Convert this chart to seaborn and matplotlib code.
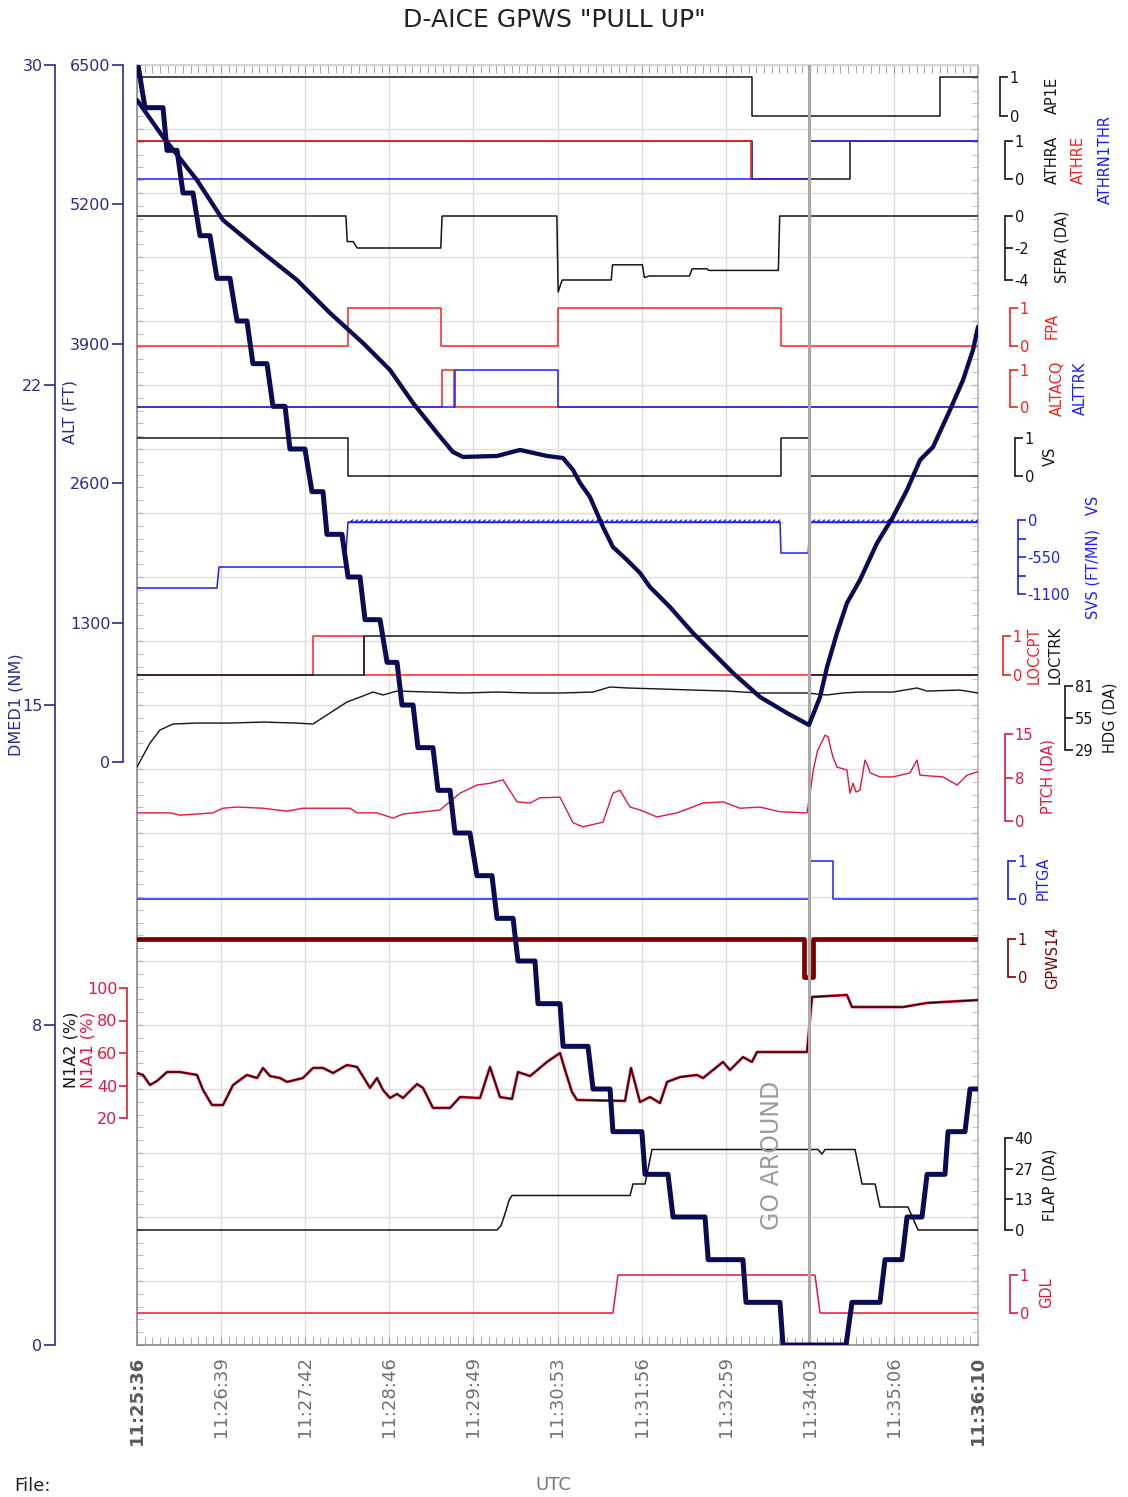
import numpy as np
import matplotlib
matplotlib.use("Agg")
import matplotlib.pyplot as plt
import matplotlib.patheffects as pe
import seaborn as sns

# ---- data (time in seconds after 11:25:36 UTC) ----
time_labels = ["11:25:36", "11:26:39", "11:27:42", "11:28:46", "11:29:49", "11:30:53",
               "11:31:56", "11:32:59", "11:34:03", "11:35:06", "11:36:10"]
t_end = 634
t_go_around = 506.5

alt_t = [0, 19.6, 45.2, 64.8, 95.0, 120.6, 145.5, 170.4, 190.7, 208.1,
         226.2, 238.2, 245.8, 271.4, 288.7, 309.1, 321.1, 328.7, 334.0, 341.5,
         351.3, 358.8, 369.4, 379.2, 386.7, 401.8, 419.1, 434.2, 449.3, 469.7,
         490.0, 506.6, 514.9, 520.2, 527.7, 535.2, 545.0, 557.9, 569.9, 580.5,
         590.3, 600.1, 612.9, 622.7, 630.2, 634]
alt_ft = [6174, 5829, 5427, 5054, 4747, 4495, 4187, 3907, 3656, 3348,
          3068, 2891, 2845, 2854, 2910, 2854, 2835, 2723, 2602, 2471,
          2192, 2005, 1884, 1763, 1632, 1445, 1203, 1017, 830, 606,
          457, 345, 606, 886, 1203, 1483, 1697, 2042, 2285, 2537,
          2816, 2938, 3283, 3562, 3842, 4057]

# DME distance, 1 NM steps: level held from dme_on to dme_off
dme_level = list(range(30, -1, -1)) + [1, 2, 3, 4, 5, 6]
dme_on = [0.0, 6.0, 22.6, 34.7, 47.5, 60.3, 75.4, 87.4, 102.5, 115.3, 131.9, 143.2, 159.1,
          171.9, 188.5, 199.8, 211.8, 226.9, 239.7, 256.3, 271.4, 287.2, 302.3, 321.2,
          343.8, 358.8, 383.0, 404.1, 430.6, 459.1, 487.0, 539.0, 563.9, 580.5, 595.6,
          611.4, 628.0]
dme_off = [0.8, 19.6, 30.2, 42.2, 55.0, 70.1, 82.9, 98.0, 111.6, 126.6, 140.2, 154.5, 168.1,
           183.2, 196.0, 208.1, 223.1, 236.0, 251.0, 267.6, 283.5, 300.0, 318.9, 340.0,
           356.6, 380.6, 400.3, 428.2, 456.8, 484.7, 534.5, 560.1, 576.7, 591.8, 609.1,
           624.2, 634.0]

ap1e_t, ap1e = [0, 463.6, 605.4, 634], [1, 0, 1, 1]
athra_t, athra = [0, 463.6, 537.5, 634], [1, 0, 1, 1]
athre_t, athre = [0, 463.2, 507.0, 634], [1, 0, 1, 1]
athrn1thr_t, athrn1thr = [0, 507.4, 634], [0, 1, 1]

sfpa_t = [0, 157.5, 158.5, 163.0, 166.0, 229.0, 230.0, 316.5, 317.5, 320.5, 357.5,
          358.5, 381.0, 382.5, 386.0, 416.5, 418.5, 429.5, 431.0, 483.5, 484.5, 634]
sfpa = [0, 0, -1.6, -1.6, -2.0, -2.0, 0, 0, -4.75, -4.0, -4.0,
        -3.05, -3.05, -3.85, -3.75, -3.75, -3.3, -3.3, -3.4, -3.4, 0, 0]

fpa_t, fpa = [0, 158.8, 229.2, 317.4, 485.4, 634], [0, 1, 0, 1, 0, 0]
altacq_t, altacq = [0, 229.9, 238.7, 634], [0, 1, 0, 0]
alttrk_t, alttrk = [0, 239.5, 317.4, 634], [0, 1, 0, 0]
vs_t, vs = [0, 158.8, 485.4, 506.6, 634], [1, 0, 1, 0, 0]

svs_t = [0, 60.3, 61.8, 156.8, 159.1, 484.7, 485.5, 506.0, 507.4, 634]
svs = [-1011, -1011, -699, -699, -30, -30, -491, -491, -30, -30]

loccpt_t, loccpt = [0, 132.7, 171.1, 634], [0, 1, 0, 0]
loctrk_t, loctrk = [0, 171.1, 506.6, 634], [0, 1, 0, 0]

hdg_t = [0, 9.8, 17.3, 27.1, 45.2, 70.0, 95.0, 120.0, 132.7, 145.5,
         158.3, 170.4, 177.9, 185.5, 196.0, 220.9, 245.8, 271.4, 296.3, 318.9,
         343.8, 356.6, 369.4, 394.3, 419.1, 444.8, 469.7, 494.6, 505.8, 512.0,
         520.2, 532.2, 545.0, 569.9, 588.0, 595.5, 620.4, 634]
hdg = [15.2, 34.7, 45.2, 50.1, 50.9, 50.9, 51.7, 50.9, 50.1, 59.1,
       68.0, 72.9, 76.1, 73.7, 76.9, 76.1, 75.3, 76.1, 75.3, 75.3,
       76.1, 80.2, 79.4, 78.6, 77.7, 76.9, 75.3, 75.3, 75.3, 74.5,
       73.7, 75.3, 76.1, 76.1, 79.4, 76.9, 77.7, 75.3]

ptch_t = [0, 24.9, 32.4, 57.3, 64.8, 75.4, 95.0, 113.1, 125.1, 160.6,
          165.9, 180.9, 193.0, 200.5, 228.4, 243.5, 256.3, 266.1, 275.9, 286.5,
          296.3, 303.8, 318.9, 328.7, 336.2, 351.3, 358.8, 364.1, 371.7, 379.2,
          392.0, 407.1, 426.7, 441.8, 454.6, 469.7, 484.7, 505.1, 507.4, 510.0,
          513.0, 518.7, 521.0, 523.0, 524.7, 527.7, 535.2, 537.5, 539.8, 542.0,
          545.0, 548.8, 551.0, 552.6, 560.1, 569.9, 582.7, 588.0, 590.3, 607.6,
          618.2, 625.7, 634]
ptch = [1.4, 1.4, 1.0, 1.4, 2.2, 2.4, 2.2, 1.7, 2.2, 2.2,
        1.4, 1.4, 0.5, 1.2, 1.9, 4.8, 6.2, 6.5, 7.1, 3.3,
        3.1, 4.0, 4.1, -0.3, -1.0, -0.2, 4.8, 5.3, 2.4, 1.9,
        0.7, 1.4, 3.1, 3.3, 2.2, 2.4, 1.6, 1.4, 4.8, 9.0,
        12.1, 14.8, 14.5, 12.5, 11.0, 9.3, 8.8, 4.8, 6.5, 5.0,
        5.3, 10.5, 9.5, 8.3, 7.6, 7.6, 8.3, 10.5, 7.9, 7.6,
        6.2, 7.9, 8.5]

pitga_t, pitga = [0, 507.4, 524.5, 634], [0, 1, 0, 0]
gpws14_t, gpws14 = [0, 502.5, 509.6, 634], [1, 0, 1, 1]

n1_t = [0, 4.5, 9.8, 15.1, 22.6, 32.4, 45.2, 49.8, 56.5, 64.8,
        72.4, 77.6, 82.9, 90.5, 95.0, 100.3, 107.8, 113.1, 125.1, 132.7,
        140.2, 147.8, 158.3, 165.9, 175.7, 180.9, 185.5, 190.7, 196.0, 200.5,
        211.1, 215.6, 223.1, 236.0, 243.5, 258.6, 266.1, 273.6, 282.7, 287.2,
        296.3, 309.1, 318.9, 322.7, 327.9, 331.7, 367.9, 372.4, 379.2, 386.7,
        394.3, 399.6, 409.4, 422.2, 426.7, 441.8, 447.0, 456.8, 463.6, 467.4,
        505.1, 508.9, 535.2, 539.0, 577.5, 595.6, 634]
n1a1 = [47.7, 46.5, 40.3, 42.8, 48.3, 48.3, 46.5, 37.2, 28.0, 28.0,
        40.3, 43.4, 46.5, 44.6, 50.8, 45.8, 44.6, 42.2, 44.6, 50.8,
        50.8, 47.7, 52.6, 51.4, 38.5, 44.6, 37.2, 32.3, 34.8, 32.3,
        40.9, 38.5, 26.2, 26.2, 32.9, 32.3, 51.4, 32.9, 31.7, 48.3,
        45.8, 54.5, 60.0, 49.5, 36.0, 31.1, 30.5, 50.8, 29.8, 32.9,
        29.2, 42.2, 45.2, 46.5, 44.6, 54.5, 49.5, 57.5, 54.5, 60.6,
        60.6, 94.5, 95.7, 88.3, 88.3, 90.8, 92.6]
n1a2 = list(n1a1)  # both engines read the same on the trace

flap_t = [0, 271.4, 274.5, 277.4, 280.5, 282.7, 371.7, 373.9, 383.0, 388.2,
          513.4, 516.4, 518.7, 541.3, 546.6, 556.4, 560.1, 581.2, 588.8, 634]
flap = [0, 0, 2, 7, 13, 15, 15, 20, 20, 35, 35, 33, 35, 35, 20, 20, 10, 10, 0, 0]

gdl_t, gdl = [0, 358.8, 362.6, 511.1, 514.9, 634], [0, 0, 1, 1, 0, 0]

# ---- layout ----
W, H = 1128, 1497
X0, X1, Y0, Y1 = 137, 978, 65, 1345  # plot box in pixels

NAVY = "#0b0b55"
AXNAVY = "#2a2a92"
BLACK = "#151515"
RED = "#ff1e1e"
CRIMSON = "#e6163e"
BLUE = "#1e1eff"
DARKRED = "#7a0000"
GRAY = "#a9a9a9"

sns.set_style("white")
plt.rcParams["font.family"] = ["DejaVu Sans"]


def fx(x):
    return x / W


def fy(y):
    return 1 - y / H


fig = plt.figure(figsize=(W / 100, H / 100), dpi=100)
rect = [X0 / W, 1 - Y1 / H, (X1 - X0) / W, (Y1 - Y0) / H]
ax = fig.add_axes(rect)
ax.set_xlim(0, t_end)
ax.set_ylim(0, 20)
ax.set_xticks(np.linspace(0, t_end, len(time_labels)))
ax.set_xticklabels(time_labels, rotation=90, fontsize=13, color="#707070")
for lab in (ax.get_xticklabels()[0], ax.get_xticklabels()[-1]):
    lab.set_fontweight("bold")
    lab.set_color("#5a5a5a")
ax.set_xticks(np.linspace(0, t_end, 111), minor=True)
ax.set_yticks(np.arange(0, 21))
ax.set_yticks(np.arange(0, 20.01, 0.2), minor=True)
ax.tick_params(axis="x", which="both", direction="in", top=True, bottom=True,
               length=6, color="#9a9a9a", pad=8)
ax.tick_params(axis="y", which="both", direction="in", left=True, right=True,
               labelleft=False, length=4, color="#b0b0b0")
ax.grid(which="major", color="#dedede", lw=1)
for side, col in (("left", "#8a8a8a"), ("bottom", "#8a8a8a"),
                  ("right", "#b5b5b5"), ("top", "#d0d0d0")):
    ax.spines[side].set_color(col)
    ax.spines[side].set_linewidth(1.2)


def overlay(v_a, y_a, v_b, y_b):
    a = fig.add_axes(rect, sharex=ax)
    a.patch.set_alpha(0)
    for s in a.spines.values():
        s.set_visible(False)
    a.tick_params(axis="x", which="both", bottom=False, top=False, labelbottom=False)
    k = (v_b - v_a) / (y_b - y_a)
    a.set_ylim(v_a + k * (Y1 - y_a), v_a + k * (Y0 - y_a))
    a.set_yticks([])
    return a


def bracket(a, x_px, lo, hi, ticks, labels, color, side="right"):
    sp = a.spines[side]
    sp.set_visible(True)
    sp.set_position(("axes", (x_px - X0) / (X1 - X0)))
    sp.set_bounds(lo, hi)
    sp.set_color(color)
    sp.set_linewidth(1.2)
    a.yaxis.set_ticks_position(side)
    a.set_yticks(ticks, labels)
    a.tick_params(axis="y", direction="out", length=6, width=1.2, color=color,
                  labelcolor=color, labelsize=10.5, pad=1)


def name(x, y, s, color):
    fig.text(fx(x), fy(y), s, rotation=90, ha="center", va="center",
             color=color, fontsize=10.5)


def trace(a, t, v, color, lw=1.1, steps=False):
    sns.lineplot(x=t, y=v, ax=a, color=color, linewidth=lw, estimator=None,
                 sort=False, drawstyle="steps-post" if steps else "default")


binary = [0, 1]

a = overlay(0, 116, 1, 77)
trace(a, ap1e_t, ap1e, BLACK, steps=True)
bracket(a, 1000, 0, 1, binary, ["0", "1"], BLACK)
name(1052, 95, "AP1E", BLACK)

a = overlay(0, 179, 1, 141)
trace(a, athra_t, athra, BLACK, steps=True)
trace(a, athre_t, athre, RED, steps=True)
trace(a, athrn1thr_t, athrn1thr, BLUE, steps=True)
bracket(a, 1005, 0, 1, binary, ["0", "1"], BLACK)
name(1052, 160, "ATHRA", BLACK)
name(1078, 160, "ATHRE", RED)
name(1105, 160, "ATHRN1THR", BLUE)

a = overlay(-4, 280, 0, 216)
trace(a, sfpa_t, sfpa, BLACK)
bracket(a, 1005, -4, 0, [-4, -2, 0], ["-4", "-2", "0"], BLACK)
name(1062, 247, "SFPA (DA)", BLACK)

a = overlay(0, 346, 1, 308)
trace(a, fpa_t, fpa, RED, steps=True)
bracket(a, 1010, 0, 1, binary, ["0", "1"], RED)
name(1052, 326, "FPA", RED)

a = overlay(0, 407, 1, 370)
trace(a, altacq_t, altacq, RED, steps=True)
trace(a, alttrk_t, alttrk, BLUE, steps=True)
bracket(a, 1010, 0, 1, binary, ["0", "1"], RED)
name(1057, 388, "ALTACQ", RED)
name(1080, 388, "ALTTRK", BLUE)

a = overlay(0, 476, 1, 438)
trace(a, vs_t, vs, BLACK, steps=True)
bracket(a, 1015, 0, 1, binary, ["0", "1"], BLACK)
name(1050, 456, "VS", BLACK)

a = overlay(-1100, 594, 0, 520)
trace(a, svs_t, svs, BLUE, lw=1.1)
# serrated look on the near-zero (selected) portions
for i in range(len(svs) - 1):
    if svs[i] > -100 and svs[i + 1] > -100:
        a.plot(svs_t[i:i + 2], svs[i:i + 2], color=BLUE, lw=1.0,
               path_effects=[pe.withTickedStroke(spacing=3.5, angle=45, length=0.6)])
bracket(a, 1018, -1100, 0, [-1100, -825, -550, -275, 0],
        ["-1100", "", "-550", "", "0"], BLUE)
name(1093, 557, "SVS (FT/MN)   VS", BLUE)

a = overlay(0, 675, 1, 636)
trace(a, loccpt_t, loccpt, RED, steps=True)
trace(a, loctrk_t, loctrk, BLACK, steps=True)
bracket(a, 1003, 0, 1, binary, ["0", "1"], RED)
name(1034, 655, "LOCCPT", RED)
name(1055, 655, "LOCTRK", BLACK)

a = overlay(29, 750, 81, 686)
trace(a, hdg_t, hdg, BLACK, lw=1.0)
bracket(a, 1065, 29, 81, [29, 55, 81], ["29", "55", "81"], BLACK)
name(1110, 718, "HDG (DA)", BLACK)

a = overlay(0, 821, 15, 734)
trace(a, ptch_t, ptch, CRIMSON, lw=1.0)
bracket(a, 1005, 0, 15, [0, 7.5, 15], ["0", "8", "15"], CRIMSON)
name(1048, 776, "PTCH (DA)", CRIMSON)

a = overlay(0, 899, 1, 861)
trace(a, pitga_t, pitga, BLUE, steps=True)
bracket(a, 1008, 0, 1, binary, ["0", "1"], BLUE)
name(1043, 878, "PITGA", BLUE)

a = overlay(0, 977, 1, 939)
trace(a, gpws14_t, gpws14, DARKRED, lw=3.4, steps=True)
bracket(a, 1008, 0, 1, binary, ["0", "1"], DARKRED)
name(1053, 958, "GPWS14", DARKRED)

a = overlay(20, 1118, 100, 988)
trace(a, n1_t, n1a1, CRIMSON, lw=2.0)
trace(a, n1_t, n1a2, "#2a0000", lw=1.0)
bracket(a, 127, 20, 100, [20, 40, 60, 80, 100], ["20", "40", "60", "80", "100"],
        CRIMSON, side="left")
a.tick_params(axis="y", labelsize=11.5)
fig.text(fx(71), fy(1050), "N1A2 (%)", rotation=90, ha="center", va="center",
         color=BLACK, fontsize=11.5)
fig.text(fx(88), fy(1050), "N1A1 (%)", rotation=90, ha="center", va="center",
         color=CRIMSON, fontsize=11.5)

a = overlay(0, 1230, 40, 1138)
trace(a, flap_t, flap, BLACK)
bracket(a, 1005, 0, 40, [0, 40 / 3, 80 / 3, 40], ["0", "13", "27", "40"], BLACK)
name(1050, 1185, "FLAP (DA)", BLACK)

a = overlay(0, 1313, 1, 1275)
trace(a, gdl_t, gdl, CRIMSON)
bracket(a, 1010, 0, 1, binary, ["0", "1"], CRIMSON)
name(1047, 1293, "GDL", CRIMSON)

# go-around marker
a = overlay(0, Y1, 1, Y0)
a.axvline(t_go_around, color=GRAY, lw=2.2)
fig.text(fx(772), fy(1155), "GO AROUND", rotation=90, ha="center", va="center",
         color="#9c9c9c", fontsize=17)

# altitude (thick navy, smooth)
a = overlay(0, 762, 6500, 65)
trace(a, alt_t, alt_ft, NAVY, lw=3.1)
bracket(a, 123, 0, 6500, [0, 1300, 2600, 3900, 5200, 6500],
        ["0", "1300", "2600", "3900", "5200", "6500"], AXNAVY, side="left")
a.tick_params(axis="y", labelsize=11.5, length=8)
fig.text(fx(70), fy(412), "ALT (FT)", rotation=90, ha="center", va="center",
         color=AXNAVY, fontsize=11.5)

# DME distance (thick navy, stepped)
a = overlay(0, Y1, 30, Y0)
dme_x = np.column_stack([dme_on, dme_off]).ravel()
dme_y = np.repeat(dme_level, 2)
trace(a, dme_x, dme_y, NAVY, lw=3.6)
bracket(a, 55, 0, 30, [0, 7.5, 15, 22.5, 30], ["0", "8", "15", "22", "30"],
        AXNAVY, side="left")
a.tick_params(axis="y", labelsize=11.5, length=8)
fig.text(fx(16), fy(705), "DMED1 (NM)", rotation=90, ha="center", va="center",
         color=AXNAVY, fontsize=11.5)

fig.text(fx(554), fy(20), 'D-AICE GPWS "PULL UP"', ha="center", va="center",
         fontsize=18, color="#222222")
fig.text(fx(553), fy(1485), "UTC", ha="center", va="center", fontsize=13, color="#777777")
fig.text(fx(14), fy(1486), "File:", ha="left", va="center", fontsize=13, color="#222222")

fig.savefig("out.png", dpi=100)
